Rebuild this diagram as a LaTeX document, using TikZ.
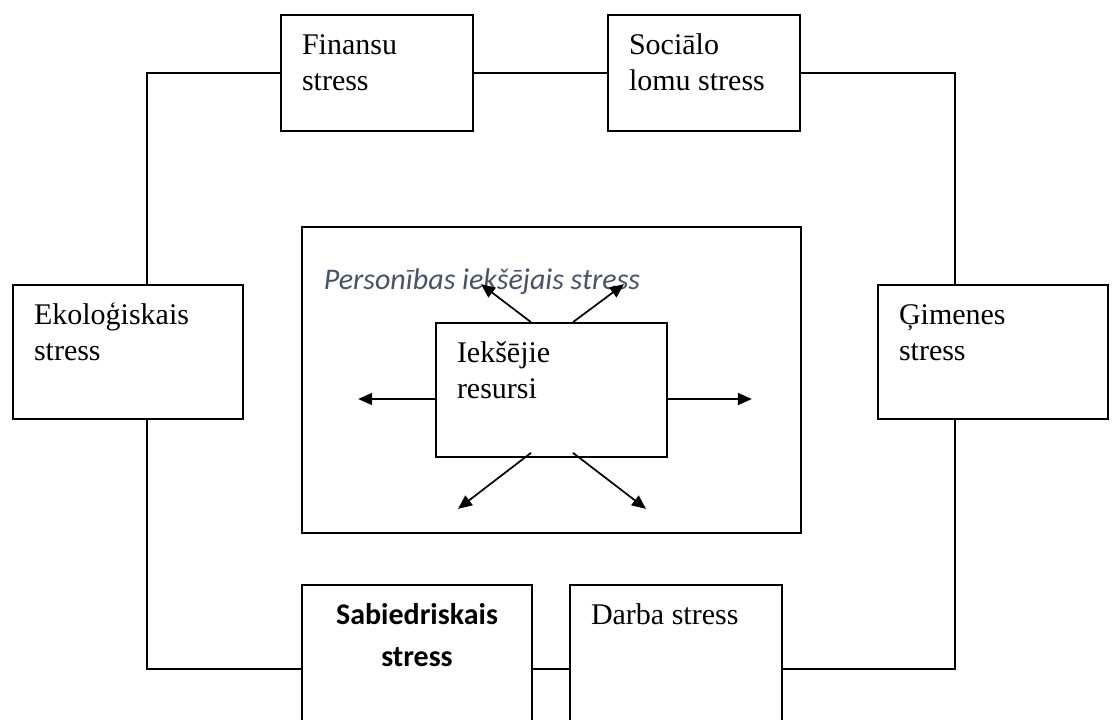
\documentclass[tikz,border=0pt]{standalone}
\usepackage{fontspec}
\setmainfont{Liberation Serif}
\newfontfamily\calfont{Carlito}
\usetikzlibrary{arrows.meta}

\definecolor{persblue}{RGB}{70,84,104}
\newcommand{\topstrut}{\rule{0pt}{12pt}}

\begin{document}
\begin{tikzpicture}[x=1pt,y=1pt,>={Triangle[length=7pt,width=6pt]},line width=0.85pt,
  main node/.style={rectangle,draw,inner sep=0pt},
  txt/.style={anchor=north west,align=left,inner sep=0pt,
    font=\fontsize{15}{18}\selectfont},
  inset/.style={xshift=10.5pt,yshift=-7.5pt}]

  \useasboundingbox (0,0) rectangle (557,-359.5);
  \clip (0,0) rectangle (557,-359.5);

  % outer frame with the inner resources in it
  \node[main node,minimum width=249.5pt,minimum height=153pt] (Pers) at (275.75,-190) {};
  \node[main node,minimum width=115.5pt,minimum height=67pt,
    label={[txt,inset]north west:{\topstrut Iekšējie\\resursi}}] (Iek)
    [node distance=5pt, below of=Pers] {};
  \node[anchor=base west,inner sep=0pt,text=persblue,
    font=\calfont\itshape\fontsize{15}{17}\selectfont] (PersTxt) at (161.5,-144.5)
    {Personības iekšējais stress};

  % stress boxes round the frame
  \node[main node,minimum width=96pt,minimum height=58pt,
    label={[txt,inset]north west:{\topstrut Finansu\\stress}}] (Fin) at (188.5,-36.5) {};
  \node[main node,minimum width=96pt,minimum height=58pt,
    label={[txt,inset]north west:{\topstrut Sociālo\\lomu stress}}] (Soc)
    [node distance=163.5pt, right of=Fin] {};
  \node[main node,minimum width=115pt,minimum height=67pt,
    label={[txt,inset]north west:{\topstrut Ekoloģiskais\\stress}}] (Eko) at (64,-176) {};
  \node[main node,minimum width=115pt,minimum height=67pt,
    label={[txt,inset]north west:{\topstrut Ģimenes\\stress}}] (Gim)
    [node distance=432.5pt, right of=Eko] {};
  \node[main node,minimum width=115pt,minimum height=84pt,
    label={[txt,anchor=north,yshift=-7.5pt,align=center,
      font=\calfont\bfseries\fontsize{15}{21}\selectfont]north:{\topstrut Sabiedriskais\\stress}}] (Sab)
    at (208.5,-334.5) {};
  \node[main node,minimum width=106pt,minimum height=84pt,
    label={[txt,inset]north west:{\topstrut Darba stress}}] (Dar)
    [node distance=129.5pt, right of=Sab] {};

  % free ends of the arrows
  \coordinate (tl) at ([shift={(-35.25,19)}]Iek.north);
  \coordinate (tr) at ([shift={(36.25,19)}]Iek.north);
  \coordinate (lf) at ([shift={(-38.5,-4.5)}]Iek.west);
  \coordinate (rt) at ([shift={(42,-4.5)}]Iek.east);
  \coordinate (bl) at ([shift={(-46.75,-25.5)}]Iek.south);
  \coordinate (br) at ([shift={(47.25,-25.5)}]Iek.south);

  \draw (Fin.west) -| ([xshift=9.5pt]Eko.north);
  \draw (Soc.east) -| ([xshift=-19pt]Gim.north);
  \draw (Fin.east) -- (Soc.west);
  \draw ([xshift=9.5pt]Eko.south) |- (Sab.west);
  \draw (Sab.east) -- (Dar.west);
  \draw (Dar.east) -| ([xshift=-19pt]Gim.south);

  \draw[->] ([xshift=-10.25pt]Iek.north) -- (tl);
  \draw[->] ([xshift=10.75pt]Iek.north) -- (tr);
  \draw[->] ([yshift=-4.5pt]Iek.west) -- (lf);
  \draw[->] ([yshift=-4.5pt]Iek.east) -- (rt);
  \draw[->] ([shift={(-10.25,2.5)}]Iek.south) -- (bl);
  \draw[->] ([shift={(10.75,2.5)}]Iek.south) -- (br);
\end{tikzpicture}
\end{document}
